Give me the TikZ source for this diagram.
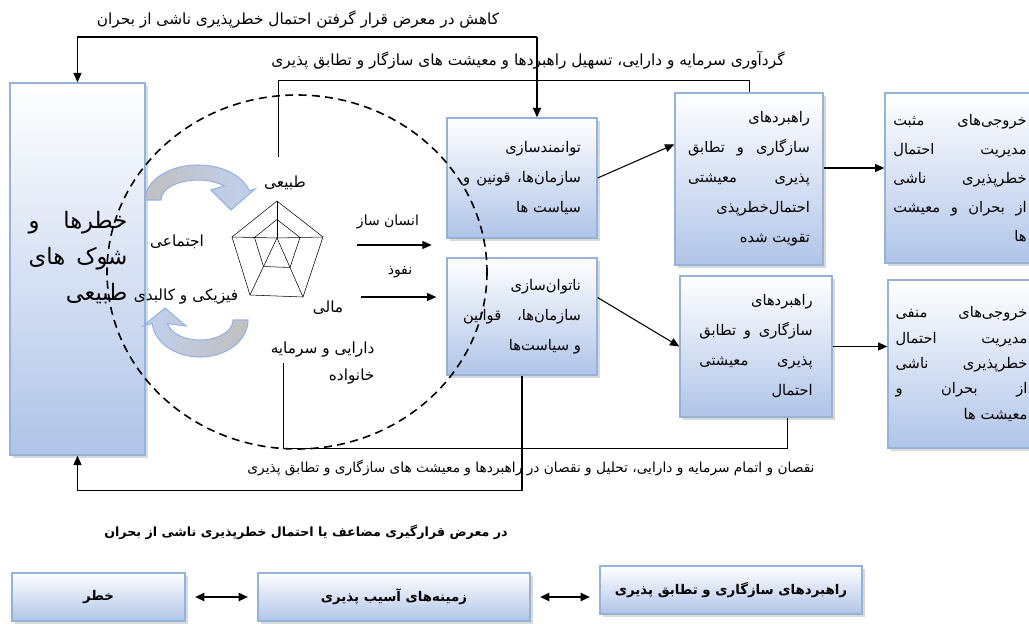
\documentclass[tikz,border=0pt]{standalone}
\usepackage{fontspec}
\newfontfamily\fafont[Script=Arabic]{DejaVu Sans}
\TeXXeTstate=1
\usetikzlibrary{positioning,calc,arrows.meta,shadows}

\definecolor{boxblue}{RGB}{176,196,232}
\definecolor{boxedge}{RGB}{149,179,215}
\definecolor{ribbon}{RGB}{150,178,225}

\newcommand{\rl}[1]{\beginR #1\endR}
\newcommand{\jl}[1]{\makebox[\linewidth][s]{\spaceskip=.3em plus 1fil\beginR #1\endR}}

\tikzset{
  bluebox/.style={draw=boxedge, line width=1pt, top color=white, bottom color=boxblue,
    drop shadow={shadow xshift=2pt, shadow yshift=-2pt, opacity=.3},
    align=right, inner sep=2pt, font=\fafont\fontsize{11}{22.5}\selectfont},
  bigtxt/.style={font=\fafont\fontsize{17}{27}\selectfont, text width=74pt, align=right, inner sep=0pt},
  lbl/.style={font=\fafont\fontsize{11.5}{20}\selectfont, inner sep=1pt},
  ribbonarrow/.style={draw=ribbon, line width=0.8pt},
  botbox/.style={bluebox, minimum height=36pt, font=\fafont\bfseries\fontsize{10}{14}\selectfont}
}

\begin{document}
\begin{tikzpicture}[x=0.75pt,y=-0.75pt,>={Triangle[length=7pt,width=6pt]}]
	\useasboundingbox (0,0) rectangle (1029,624);

	% boxes
	\node[bluebox, minimum width=101.25pt, minimum height=279pt] (risk) at (77.5,269) {};
	\node[bigtxt] (risktxt) at (78,258) {\jl{خطرها و}\\ \jl{شوک های}\\ \rl{طبیعی}};

	\node[bluebox, minimum width=112.5pt, minimum height=90pt, text width=88.5pt] (emp) at (522,178)
		{\rl{توانمندسازی}\\ \jl{سازمان‌ها، قونین و}\\ \rl{سیاست ها}};
	\node[bluebox, minimum width=112.5pt, minimum height=87.75pt, text width=88.5pt] (dis) at (522,316.5)
		{\rl{ناتوان‌سازی}\\ \jl{سازمان‌ها، قوانین}\\ \rl{و سیاست‌ها}};

	\node[bluebox, minimum width=111pt, minimum height=129pt, text width=91.5pt] (stup) at (749,179)
		{\rl{راهبردهای}\\ \jl{سازگاری و تطابق}\\ \jl{پذیری معیشتی}\\ \rl{احتمال‌خطرپذی}\\ \rl{تقویت شده}};
	\node[bluebox, minimum width=114pt, minimum height=105.75pt, text width=85pt] (stdn) at (756,346.5)
		{\rl{راهبردهای}\\ \jl{سازگاری و تطابق}\\ \jl{پذیری معیشتی}\\ \rl{احتمال}};

	\node[bluebox, minimum width=112.5pt, minimum height=127.5pt, text width=100pt,
		font=\fafont\fontsize{11}{21.75}\selectfont] (pos) at (960,178)
		{\jl{خروجی‌های مثبت}\\ \jl{مدیریت احتمال}\\ \jl{خطرپذیری ناشی}\\ \jl{از بحران و معیشت}\\ \rl{ها}};
	\node[bluebox, minimum width=110.25pt, minimum height=126pt, text width=99pt,
		font=\fafont\fontsize{11}{19}\selectfont] (neg) at (961.5,364)
		{\jl{خروجی‌های منفی}\\ \jl{مدیریت احتمال}\\ \jl{خطرپذیری ناشی}\\ \jl{از بحران و}\\ \rl{معیشت ها}};

	\node[botbox, minimum width=129.75pt] (haz) at (98.5,597) {\rl{خطر}};
	\node[botbox, minimum width=204pt] (vul) at (394,597) {\rl{زمینه‌های آسیب پذیری}};
	\node[botbox, minimum width=196.5pt] (ad) at (731,590) {\rl{راهبردهای سازگاری و تطابق پذیری}};

	% capitals chart
	\coordinate (pc) at (277,238);
	\foreach \n/\dx/\dy in {t/0/-37, r/46/-1, br/26/59, bl/-27/57, l/-45/-1} {
		\coordinate (v\n) at ($(pc)+(\dx,\dy)$);
		\coordinate (w\n) at ($(pc)+0.5*(\dx,\dy)$);
		\draw (pc) -- (v\n);
	}
	\draw (vt) -- (vr) -- (vbr) -- (vbl) -- (vl) -- cycle;
	\draw (wt) -- (wr) -- (wbr) -- (wbl) -- (wl) -- cycle;

	\node[lbl] (ltab) at (285,183) {\rl{طبیعی}};
	\node[lbl] (lejt) at (177,242) {\rl{اجتماعی}};
	\node[lbl] (lfiz) at (186,297) {\rl{فیزیکی و کالبدی}};
	\node[lbl] (lmal) at (328,308) {\rl{مالی}};
	\node[lbl, align=right, anchor=east] (ldar) at (376,363) {\rl{دارایی  و  سرمایه}\\ \rl{خانواده}};

	% ribbon arrows
	\path[ribbonarrow, left color=gray!50, right color=ribbon!60] (145,200)
		arc[start angle=180, end angle=345, x radius=53, y radius=35]
		-- (255,189) -- (231,210) -- (211,190) -- (224.2,185.9)
		arc[start angle=315, end angle=180, x radius=37, y radius=20] -- cycle;
	\path[ribbonarrow, left color=ribbon!60, right color=gray!50] (248,320)
		arc[start angle=0, end angle=175, x radius=48, y radius=37]
		-- (143,326) -- (165,308) -- (186,326) -- (167.5,323.5)
		arc[start angle=170, end angle=0, x radius=33, y radius=20] -- cycle;

	% dashed system boundary
	\draw[line width=1.2pt, dash pattern=on 6pt off 4pt] (297,272) ellipse [x radius=190, y radius=177];

	% flows into the two institution boxes
	\node[lbl, font=\fafont\fontsize{10.5}{14}\selectfont] (lens) at (388,222) {\rl{انسان ساز}};
	\node[lbl, font=\fafont\fontsize{10.5}{14}\selectfont] (lnfz) at (400,272) {\rl{نفوذ}};
	\coordinate (ha) at (357,245);
	\coordinate (hb) at (361,297);
	\draw[->, thick] (ha) -- ([xshift=-11pt]ha -| emp.west);
	\draw[->, thick] (hb) -- ([xshift=-7.5pt]hb -| dis.west);

	\draw[->, thick] (emp.east) -- ($(stup.north west)!0.3!(stup.south west)$);
	\draw[->, thick] ($(dis.north east)!0.34!(dis.south east)$) -- (stdn.west);
	\draw[->, thick] ([yshift=8.25pt]stup.east) -- ([yshift=8.25pt]stup.east -| pos.west);
	\draw[->, thick] (stdn.east) -- (stdn.east -| neg.west);

	% feedback loops
	\coordinate (tj) at (537,37);
	\draw[->, thick] (tj) -| (risk.north);
	\draw[->, thick] (tj) -- (tj |- emp.north);
	\node[lbl] (tkah) at (298,20) {\rl{کاهش در معرض قرار گرفتن احتمال خطرپذیری ناشی از بحران}};

	\coordinate (nt) at (278,157);
	\coordinate (nk) at (278,80);
	\draw (nt) -- (nk) -| (stup.north);
	\node[lbl] (tgrd) at (528,60) {\rl{گردآوری سرمایه و دارایی، تسهیل راهبردها و معیشت های سازگار و تطابق پذیری}};

	\coordinate (mb) at (283,363);
	\coordinate (mk) at (787,448);
	\draw (mb) |- (mk) -- (mk |- stdn.south);
	\draw[->, thick] (dis.south) -- ++(0,115) -| (risk.south);
	\node[lbl, font=\fafont\fontsize{10.3}{12}\selectfont] (tnqs) at (531,468)
		{\rl{نقصان و اتمام سرمایه و دارایی، تحلیل و نقصان در راهبردها و معیشت های سازگاری و تطابق پذیری}};

	% bottom row
	\node[lbl, font=\fafont\bfseries\fontsize{9.5}{12}\selectfont] (tmza) at (306,532)
		{\rl{در معرض قرارگیری مضاعف یا احتمال خطرپذیری ناشی از بحران}};
	\draw[<->, line width=1.5pt, shorten <=7pt, shorten >=7pt] (haz) -- (vul);
	\draw[<->, line width=1.5pt, shorten <=7pt, shorten >=7pt] (vul.east) -- (vul.east -| ad.west);
\end{tikzpicture}
\end{document}
